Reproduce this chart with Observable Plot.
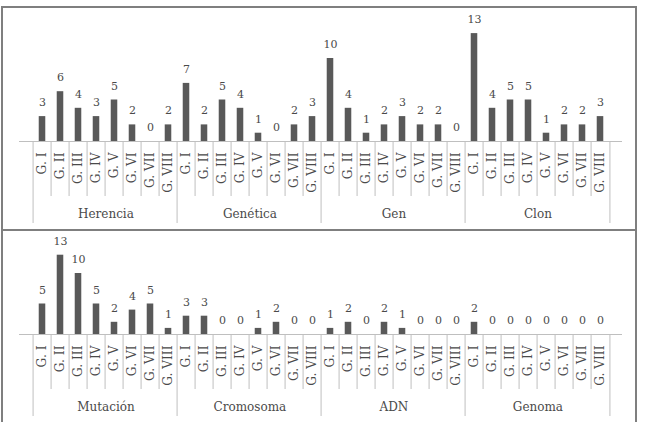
<!DOCTYPE html>
<html>
<head>
<meta charset="utf-8">
<script src="https://cdn.jsdelivr.net/npm/d3@7"></script>
<script src="https://cdn.jsdelivr.net/npm/@observablehq/plot@0.6"></script>
<style>
  html, body { margin: 0; padding: 0; background: #fff; overflow: hidden; }
  #frame { position: absolute; left: 1px; top: 6px; width: 632px; border: 2px solid #7f7f7f; }
  #bottom { border-top: 2px solid #7f7f7f; }
  svg { display: block; }
</style>
</head>
<body>
<div id="frame">
  <div id="top"></div>
  <div id="bottom"></div>
</div>
<script>
const levels = ["G. I", "G. II", "G. III", "G. IV", "G. V", "G. VI", "G. VII", "G. VIII"];

const topGroups = ["Herencia", "Genética", "Gen", "Clon"];
const herencia = [3, 6, 4, 3, 5, 2, 0, 2];
const genetica = [7, 2, 5, 4, 1, 0, 2, 3];
const gen = [10, 4, 1, 2, 3, 2, 2, 0];
const clon = [13, 4, 5, 5, 1, 2, 2, 3];

const bottomGroups = ["Mutación", "Cromosoma", "ADN", "Genoma"];
const mutacion = [5, 13, 10, 5, 2, 4, 5, 1];
const cromosoma = [3, 3, 0, 0, 1, 2, 0, 0];
const adn = [1, 2, 0, 2, 1, 0, 0, 0];
const genoma = [2, 0, 0, 0, 0, 0, 0, 0];

const BAR = "#595959", LINE = "#bfbfbf", TEXT = "#4a4a4a";
const FONT = "DejaVu Serif";

function build(groups, series, {height, marginTop, marginBottom, pxPerUnit}) {
  const rows = groups.flatMap((g, gi) =>
    levels.map((l, li) => ({group: g, level: l, li, key: g + "|" + l, value: series[gi][li]})));
  const keys = rows.map(d => d.key);
  const W = 632, ml = 16, mr = 13;
  const bw = (W - ml - mr) / rows.length;
  const barW = 7.4;
  const plotH = height - marginTop - marginBottom;
  const yMax = plotH / pxPerUnit;
  const inner = rows.filter(d => d.li > 0);
  const starts = rows.filter(d => d.li === 0);
  const last = rows.slice(-1);
  const mids = rows.filter(d => d.li === 3);
  return Plot.plot({
    width: W,
    height,
    marginLeft: ml,
    marginRight: mr,
    marginTop,
    marginBottom,
    style: {fontFamily: FONT, fontSize: "12px", color: TEXT, background: "transparent"},
    x: {type: "band", domain: keys, padding: 0, axis: null},
    y: {domain: [0, yMax], axis: null},
    marks: [
      Plot.ruleY([0], {stroke: LINE, strokeWidth: 1}),
      Plot.ruleX(inner, {x: "key", dx: -bw / 2, y1: () => 0, y2: () => 0, insetBottom: -55, stroke: LINE}),
      Plot.ruleX(starts, {x: "key", dx: -bw / 2, y1: () => 0, y2: () => 0, insetBottom: -82, stroke: LINE}),
      Plot.ruleX(last, {x: "key", dx: bw / 2, y1: () => 0, y2: () => 0, insetBottom: -82, stroke: LINE}),
      Plot.barY(rows, {x: "key", y: "value", fill: BAR, insetLeft: (bw - barW) / 2, insetRight: (bw - barW) / 2}),
      Plot.text(rows, {x: "key", y: "value", text: d => String(d.value), dy: -14, fill: TEXT, fontSize: 11}),
      Plot.text(rows, {
        x: "key", y: () => 0, dy: 11, text: "level", rotate: -90,
        textAnchor: "end", lineAnchor: "middle", fill: TEXT, fontSize: 12.2
      }),
      Plot.text(mids, {x: "key", dx: bw / 2, y: () => 0, dy: 73, text: "group", fill: TEXT, fontSize: 12})
    ]
  });
}

document.getElementById("top").append(
  build(topGroups, [herencia, genetica, gen, clon], {height: 221, marginTop: 25, marginBottom: 88, pxPerUnit: 8.3})
);
document.getElementById("bottom").append(
  build(bottomGroups, [mutacion, cromosoma, adn, genoma], {height: 200, marginTop: 24, marginBottom: 97, pxPerUnit: 6.1})
);
</script>
</body>
</html>
